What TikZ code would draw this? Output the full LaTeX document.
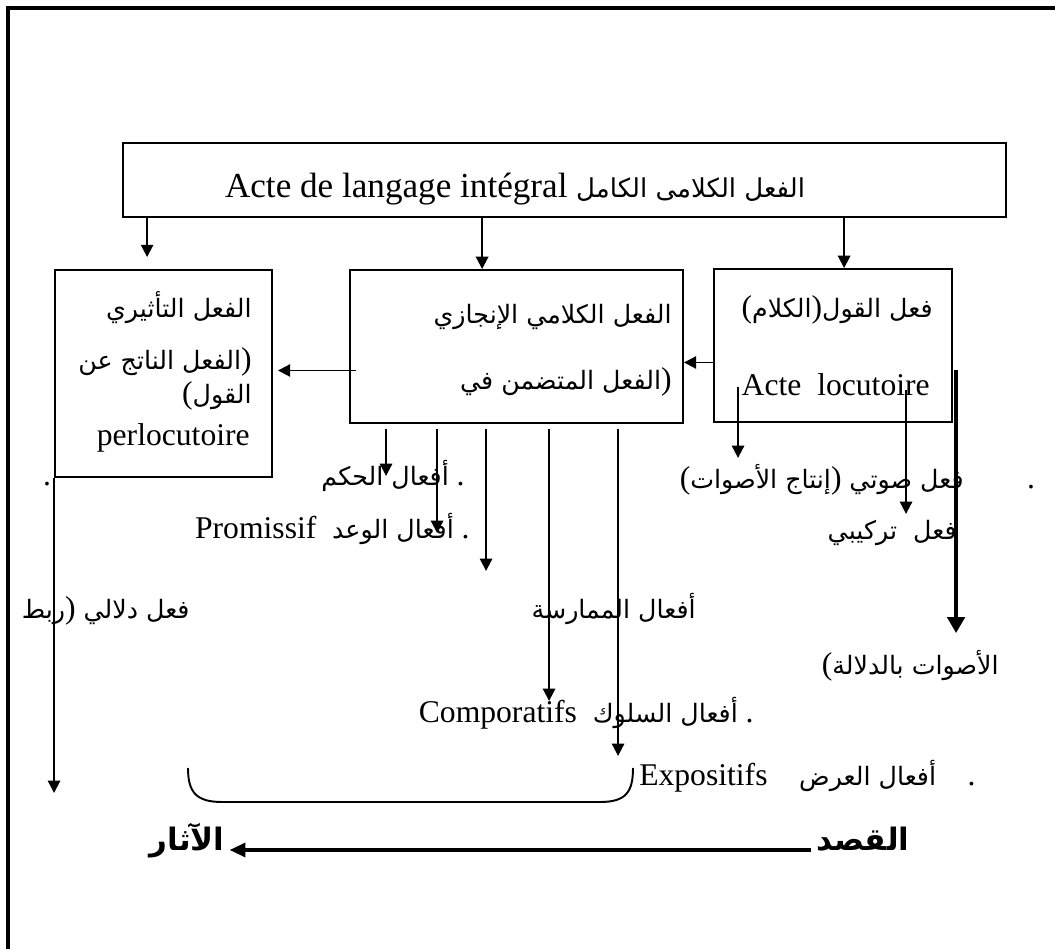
\documentclass[tikz,border=0pt]{standalone}
\usepackage{fontspec}
\setmainfont{Liberation Serif}
\newfontfamily\arabicfont[Script=Arabic,Scale=0.8]{DejaVu Sans}
\TeXXeTstate=1
\newcommand\arb[1]{{\arabicfont\beginR #1\endR}}
\usetikzlibrary{arrows.meta,calc,positioning}
\tikzset{
	box/.style={draw,line width=1.1pt,inner sep=0pt},
	arr/.style={line width=1.1pt,-{Triangle[length=7pt,width=7pt]}},
	fat arr/.style={line width=1.8pt,-{Triangle[length=9pt,width=10pt]}},
	txt/.style={inner sep=0pt,font=\fontsize{18}{21}\selectfont},
	big/.style={txt,anchor=base,font=\fontsize{22}{26}\selectfont\bfseries},
}
\begin{document}
\begin{tikzpicture}[x=0.02cm,y=-0.02cm]
\useasboundingbox (0,0) rectangle (1055,949);
\draw[line width=1.8pt] (8,949) -- (8,8) -- (1055,8);
% boxes
\node (top) at (564.5,180) [box,minimum width=17.66cm,minimum height=1.48cm] {};
\node (lbox) at (163.5,373.5) [box,minimum width=4.34cm,minimum height=4.14cm] {};
\node (mbox) at (516.5,346.5) [box,minimum width=6.66cm,minimum height=3.06cm] {};
\node (rbox) at (833,345.5) [box,minimum width=4.76cm,minimum height=3.06cm] {};
% texts in the boxes
\node (ttl) at (515,198) [txt,anchor=base,font=\fontsize{20}{24}\selectfont] {Acte de langage intégral {\fontsize{18.5}{21}\selectfont\arb{الفعل الكلامى الكامل}}};
\node (l1) at (252,318) [txt,anchor=base east] {\arb{الفعل التأثيري}};
\node (l2) at (252,370) [txt,anchor=base east] {\arb{الفعل الناتج عن})};
\node (l3) at (252,404) [txt,anchor=base east] {(\arb{القول}};
\node (l4) at (250,445) [txt,anchor=base east] {perlocutoire};
\node (m1) at (672,324) [txt,anchor=base east] {\arb{الفعل الكلامي الإنجازي}};
\node (m2) at (672,390) [txt,anchor=base east] {\arb{الفعل المتضمن في})};
\node (r1) at (933,318) [txt,anchor=base east] {(\arb{الكلام})\arb{فعل القول}};
\node (r2) at (930,396) [txt,anchor=base east] {Acte\ \ locutoire};
% texts below
\node (dot1) at (47,485) [txt,anchor=base] {.};
\node (hukm) at (465,485) [txt,anchor=base east] {\arb{أفعال الحكم}\ .};
\node (waad) at (470,538) [txt,anchor=base east] {Promissif\ \ \arb{أفعال الوعد}\ .};
\node (sawt) at (964,488) [txt,anchor=base east] {(\arb{إنتاج الأصوات})\ \arb{فعل صوتي}};
\node (dot2) at (1031,488) [txt,anchor=base] {.};
\node (tarkib) at (957,540) [txt,anchor=base east] {\arb{فعل\ \ تركيبي}};
\node (mumar) at (696,618) [txt,anchor=base east] {\arb{أفعال الممارسة}};
\node (dalali) at (190,618) [txt,anchor=base east] {\arb{ربط})\ \arb{فعل دلالي}};
\node (dalala) at (999,674) [txt,anchor=base east] {(\arb{الأصوات بالدلالة}};
\node (suluk) at (754,722) [txt,anchor=base east] {Comporatifs\ \ \arb{أفعال السلوك}\ .};
\node (ard) at (976,785) [txt,anchor=base east] {Expositifs\quad\arb{أفعال العرض}\quad .};
\node (qasd) at (863,850) [big] {\arb{القصد}};
\node (athar) at (187,850) [big] {\arb{الآثار}};
% arrows
\draw[arr] ($(top.south west)+(25,0)$) coordinate (T1) -- ($(T1|-lbox.north)+(0,-12)$);
\draw[arr] ($(top.south west)+(360,0)$) coordinate (T2) -- (T2|-mbox.north);
\draw[arr] ($(top.south west)+(722,0)$) coordinate (T3) -- (T3|-rbox.north);
\draw[arr] ($(mbox.west)+(7,24)$) coordinate (T4) -- ($(T4-|lbox.east)+(5,0)$);
\draw[arr] ($(rbox.west)+(0,17)$) coordinate (T5) -- (T5-|mbox.east);
\foreach \dx/\len in {37/47,88/104,137/142,200/272,269/327}
	\draw[arr] ($(mbox.south west)+(\dx,5)$) -- ++(0,\len);
\foreach \dx/\dy/\len in {25/-36/71,193/-33/124}
	\draw[arr] ($(rbox.south west)+(\dx,\dy)$) -- ++(0,\len);
\draw[fat arr] ($(rbox.south west)+(243,-53)$) -- ++(0,263);
\draw[arr] (lbox.south west) -- ++(0,315);
% brace under the acts
\draw[line width=1.1pt] (188,768) .. controls (188,792) and (196,802) .. (222,802) -- (600,802) .. controls (626,802) and (633,792) .. (633,768);
\draw[line width=1.8pt,-{Triangle[length=9pt,width=8pt]}] ($(qasd.base west)+(-5,0)$) -- ($(athar.base east)+(5,0)$);
\end{tikzpicture}
\end{document}
